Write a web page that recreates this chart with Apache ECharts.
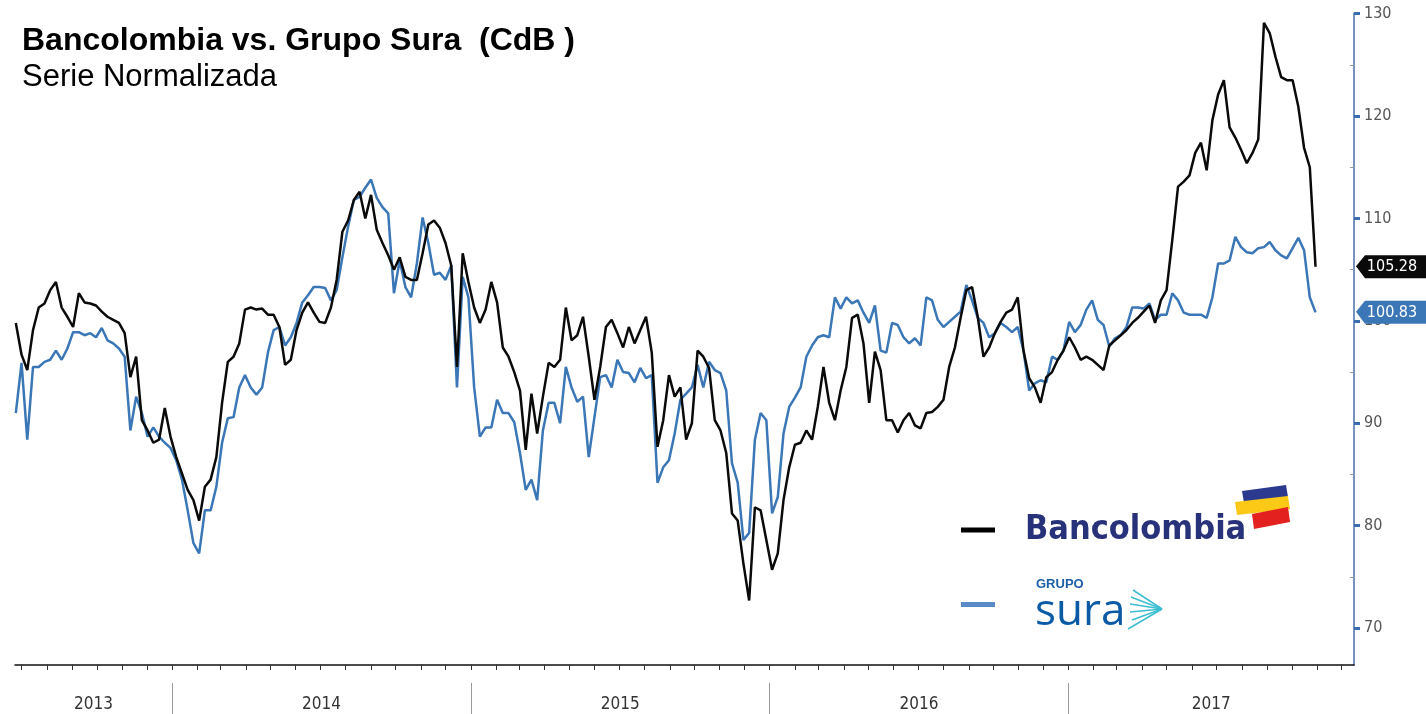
<!DOCTYPE html>
<html><head><meta charset="utf-8">
<script src="https://cdn.jsdelivr.net/npm/echarts@6/dist/echarts.min.js"></script>
<style>html,body{margin:0;padding:0;background:#fff}#c{width:1426px;height:714px}</style>
</head><body><div id="c"></div>
<script>
// ---------------- data ----------------
const startDate = '2013-06-24';   // first weekly observation
const stepDays = 7;               // weekly series
const axisStart = '2013-06-23';
const axisEnd = '2017-12-16';

const bancolombia = [
99.8,96.7,95.2,99.1,101.3,101.7,103.0,103.8,101.3,100.4,
99.4,102.7,101.8,101.7,101.5,100.9,100.4,100.1,99.8,98.8,
94.5,96.5,90.3,89.3,88.1,88.4,91.5,88.7,86.7,85.1,
83.5,82.5,80.5,83.8,84.5,86.7,92.0,96.0,96.5,97.8,
101.1,101.3,101.1,101.2,100.6,100.6,99.4,95.7,96.2,99.1,
100.8,101.8,100.8,99.9,99.8,101.3,104.0,108.7,109.8,111.8,
112.6,110.0,112.3,108.9,107.6,106.4,105.0,106.2,104.3,104.0,
104.0,106.6,109.4,109.8,109.1,107.6,105.4,95.5,106.6,103.8,
101.3,99.8,101.1,103.8,101.8,97.4,96.5,95.0,93.2,87.4,
92.9,89.0,92.6,95.9,95.5,96.2,101.3,98.1,98.6,100.4,
96.5,92.3,95.5,99.4,100.1,98.8,97.4,99.4,97.8,99.1,
100.4,96.9,87.7,90.3,94.7,92.6,93.5,88.4,90.0,97.1,
96.5,95.4,90.3,89.3,87.1,81.2,80.5,76.3,72.7,81.8,
81.5,78.6,75.7,77.3,82.5,85.7,87.9,88.1,89.3,88.4,
91.6,95.5,92.0,90.3,93.2,95.5,100.3,100.6,97.8,92.0,
97.0,95.2,90.3,90.3,89.1,90.3,91.0,89.8,89.5,91.0,
91.1,91.6,92.3,95.5,97.4,100.3,103.0,103.3,100.4,96.5,
97.4,98.8,99.9,100.8,101.1,102.3,97.1,94.4,93.5,92.0,
94.5,95.0,96.2,97.1,98.4,97.4,96.2,96.5,96.2,95.7,
95.2,97.6,98.1,98.6,99.1,99.8,100.3,100.9,101.5,99.8,
102.0,103.0,107.9,113.1,113.6,114.2,116.4,117.4,114.7,119.6,
122.1,123.5,118.9,117.9,116.7,115.4,116.4,117.7,129.1,128.1,
125.8,123.8,123.5,123.5,120.9,116.9,115.0,105.28
];

const grupoSura = [
91.0,95.9,88.4,95.5,95.5,96.0,96.2,97.1,96.2,97.3,
98.9,98.9,98.6,98.8,98.4,99.3,98.1,97.8,97.3,96.5,
89.3,92.6,91.0,88.7,89.6,88.7,88.1,87.6,86.4,84.5,
81.5,78.3,77.3,81.5,81.5,83.8,88.1,90.5,90.6,93.5,
94.7,93.5,92.8,93.5,96.9,99.1,99.4,97.6,98.4,99.8,
101.8,102.5,103.3,103.3,103.2,102.0,103.0,106.2,109.2,111.8,
112.1,113.0,113.8,112.0,111.1,110.5,102.7,105.9,103.3,102.3,
105.6,110.1,107.6,104.5,104.7,104.0,105.4,93.5,104.3,102.3,
93.5,88.7,89.6,89.6,92.3,91.0,91.0,90.1,87.1,83.5,
84.5,82.5,89.3,92.0,92.0,90.0,95.5,93.5,92.1,92.6,
86.7,90.6,94.5,94.7,93.5,96.2,95.0,94.9,94.0,95.4,
94.4,94.7,84.2,85.7,86.4,89.0,92.3,92.9,93.5,95.7,
93.5,96.0,95.2,94.9,93.2,86.1,84.2,78.6,79.3,88.4,
91.0,90.3,81.2,82.8,89.0,91.6,92.5,93.5,96.5,97.6,
98.4,98.6,98.4,102.3,101.2,102.3,101.7,102.0,100.8,99.8,
101.5,97.1,96.9,99.8,99.6,98.4,97.8,98.3,97.6,102.3,
102.0,100.1,99.4,99.9,100.4,100.9,103.5,102.0,100.3,99.8,
98.4,98.8,99.8,99.4,98.9,99.4,97.1,93.2,93.9,94.2,
94.0,96.5,96.2,97.1,99.9,98.9,99.6,101.1,102.0,100.1,
99.6,97.5,98.3,98.6,99.4,101.3,101.3,101.2,101.7,100.1,
100.6,100.6,102.7,102.0,100.8,100.6,100.6,100.6,100.3,102.3,
105.6,105.6,105.9,108.2,107.2,106.7,106.6,107.1,107.2,107.7,
106.9,106.4,106.1,107.1,108.1,106.9,102.3,100.83
];

const yTickValues = [70, 80, 90, 100, 110, 120, 130];
const yMinorValues = [75, 85, 95, 105, 115, 125];
const yearLabels = ['2013', '2014', '2015', '2016', '2017'];
const seriesNames = ['Bancolombia', 'Grupo Sura'];

// ---------------- helpers ----------------
function parseUTC(s) { const p = s.split('-').map(Number); return new Date(Date.UTC(p[0], p[1] - 1, p[2])); }
function fy(d) {
  const y = d.getUTCFullYear();
  const a = Date.UTC(y, 0, 1), b = Date.UTC(y + 1, 0, 1);
  return y + (d.getTime() - a) / (b - a);
}
const xMin = fy(parseUTC(axisStart));
const xMax = fy(parseUTC(axisEnd));
const t0 = parseUTC(startDate).getTime();
function xAt(i) { return fy(new Date(t0 + i * stepDays * 86400000)); }
const blackData = bancolombia.map((v, i) => [xAt(i), v]);
const blueData = grupoSura.map((v, i) => [xAt(i), v]);

const monthTicks = [];
for (let y = 2013; y <= 2018; y++) for (let m = 0; m < 12; m++) {
  const v = fy(new Date(Date.UTC(y, m, 1)));
  if (v >= xMin && v <= xMax) monthTicks.push(v);
}
const yearNums = yearLabels.map(Number);
const yearSeparators = yearNums.filter(y => y > xMin && y < xMax);
const yearLabelPos = yearNums.map(y => (Math.max(y, xMin) + Math.min(y + 1, xMax)) / 2);

const narrow = "'Liberation Sans Narrow','DejaVu Sans Condensed','Liberation Sans',sans-serif";
const tagPath = 'path://M0,11 L9,0 L76,0 L76,23 L9,23 Z';

function tag(data, color) {
  const last = data[data.length - 1][1];
  return {
    silent: true,
    symbol: tagPath,
    symbolSize: [76, 23],
    symbolKeepAspect: false,
    symbolOffset: [40, 0],
    itemStyle: { color: color },
    label: {
      show: true, position: 'inside', offset: [-2, 0],
      color: '#fff', fontSize: 16, fontFamily: narrow,
      formatter: () => last.toFixed(2)
    },
    data: [{ coord: [xMax, last], value: last }]
  };
}

const chart = echarts.init(document.getElementById('c'), null, { renderer: 'canvas' });
chart.setOption({
  animation: false,
  backgroundColor: '#fff',
  title: {
    text: 'Bancolombia vs. Grupo Sura  (CdB )',
    subtext: 'Serie Normalizada',
    left: 22, top: 25, itemGap: 5, padding: 0,
    textStyle: { fontSize: 32, fontWeight: 'bold', color: '#000', fontFamily: 'Liberation Sans, Arial, sans-serif' },
    subtextStyle: { fontSize: 31, color: '#000', fontFamily: 'Liberation Sans, Arial, sans-serif' }
  },
  grid: { left: 15, right: 72, top: 13.6, bottom: 49, containLabel: false },
  xAxis: [
    {
      type: 'value', min: xMin, max: xMax, position: 'bottom',
      axisLine: { show: true, lineStyle: { color: '#111', width: 1.5 } },
      axisTick: { show: true, customValues: monthTicks, length: 5, lineStyle: { color: '#333', width: 1 } },
      axisLabel: { show: false },
      splitLine: { show: false }
    },
    {
      type: 'value', min: xMin, max: xMax, position: 'bottom', offset: 18,
      axisLine: { show: false },
      axisTick: { show: true, customValues: yearSeparators, length: 31, lineStyle: { color: '#999', width: 1 } },
      axisLabel: {
        show: true, customValues: yearLabelPos, margin: 13,
        color: '#333', fontSize: 17, fontFamily: narrow,
        formatter: v => String(Math.floor(v + 1e-9))
      },
      splitLine: { show: false }
    }
  ],
  yAxis: [
    {
      type: 'value', position: 'right', min: 66.4, max: 130, offset: 0,
      axisLine: { show: true, lineStyle: { color: '#4a6ea8', width: 1.5 } },
      axisTick: { show: true, customValues: yTickValues, length: 6, lineStyle: { color: '#3b6cb0', width: 3 } },
      axisLabel: { show: true, customValues: yTickValues, color: '#555', fontSize: 16, margin: 10, fontFamily: narrow },
      splitLine: { show: false }
    },
    {
      type: 'value', position: 'right', min: 66.4, max: 130, offset: 0,
      axisLine: { show: false },
      axisTick: { show: true, inside: true, customValues: yMinorValues, length: 4, lineStyle: { color: '#999', width: 1 } },
      axisLabel: { show: false },
      splitLine: { show: false }
    }
  ],
  legend: {
    orient: 'vertical', left: 956, top: 508, itemWidth: 34, itemHeight: 5, itemGap: 31,
    icon: 'rect', selectedMode: false,
    data: [
      { name: seriesNames[0], itemStyle: { color: '#000' } },
      { name: seriesNames[1], itemStyle: { color: '#5b8bc6' } }
    ],
    formatter: name => name === seriesNames[0] ? '{b|Bancolombia}' : '{g|GRUPO}\n{s|sura}',
    textStyle: {
      rich: {
        b: { fontFamily: narrow, fontWeight: 'bold', fontSize: 34, color: '#27327a', padding: [0, 0, 0, 25], lineHeight: 42 },
        g: { fontFamily: 'Liberation Sans, sans-serif', fontWeight: 'bold', fontSize: 13, color: '#1d5fa8', padding: [0, 0, 0, 36], lineHeight: 16 },
        s: { fontFamily: "'Open Sans', sans-serif", fontSize: 44, color: '#0b5aa6', padding: [0, 0, 0, 35], lineHeight: 40 }
      }
    }
  },
  graphic: [
    { type: 'polygon', shape: { points: [[1242, 491], [1286, 485], [1288, 497], [1244, 503]] }, style: { fill: '#2b3a8f' } },
    { type: 'polygon', shape: { points: [[1235, 502], [1288, 496], [1290, 509], [1237, 515]] }, style: { fill: '#fcc917' } },
    { type: 'polygon', shape: { points: [[1252, 514], [1288, 507], [1290, 522], [1254, 529]] }, style: { fill: '#e3211f' } },
    { type: 'group', children: [
      { type: 'line', shape: { x1: 1162, y1: 609, x2: 1133, y2: 590 }, style: { stroke: '#3dbdd0', lineWidth: 1.5 } },
      { type: 'line', shape: { x1: 1162, y1: 609, x2: 1131, y2: 597 }, style: { stroke: '#3dbdd0', lineWidth: 1.5 } },
      { type: 'line', shape: { x1: 1162, y1: 609, x2: 1130, y2: 604 }, style: { stroke: '#3dbdd0', lineWidth: 1.5 } },
      { type: 'line', shape: { x1: 1162, y1: 609, x2: 1130, y2: 612 }, style: { stroke: '#3dbdd0', lineWidth: 1.5 } },
      { type: 'line', shape: { x1: 1162, y1: 609, x2: 1132, y2: 620 }, style: { stroke: '#3dbdd0', lineWidth: 1.5 } },
      { type: 'line', shape: { x1: 1162, y1: 609, x2: 1128, y2: 629 }, style: { stroke: '#3dbdd0', lineWidth: 1.5 } }
    ] }
  ],
  series: [
    {
      name: seriesNames[1], type: 'line', data: blueData, xAxisIndex: 0, yAxisIndex: 0,
      showSymbol: false, symbol: 'none', z: 2,
      lineStyle: { color: '#3b77b6', width: 2.5 }, itemStyle: { color: '#3b77b6' },
      markPoint: tag(blueData, '#3b77b6')
    },
    {
      name: seriesNames[0], type: 'line', data: blackData, xAxisIndex: 0, yAxisIndex: 0,
      showSymbol: false, symbol: 'none', z: 3,
      lineStyle: { color: '#0a0a0a', width: 2.5 }, itemStyle: { color: '#0a0a0a' },
      markPoint: tag(blackData, '#0a0a0a')
    }
  ]
});
</script></body></html>
